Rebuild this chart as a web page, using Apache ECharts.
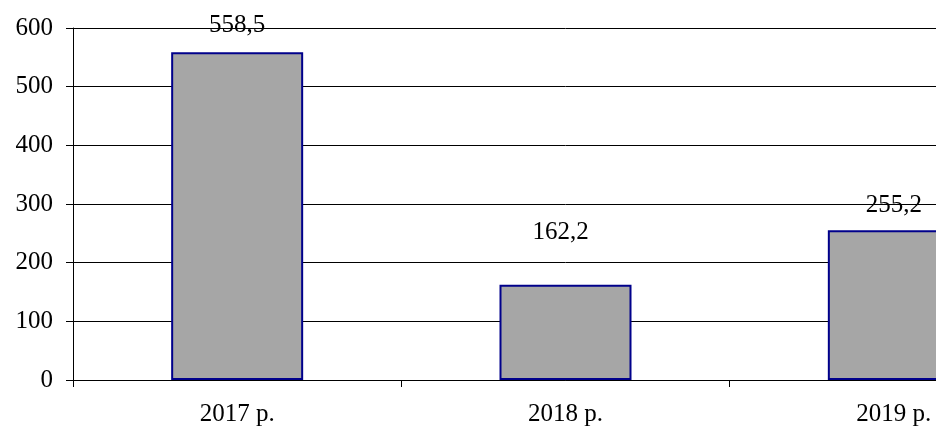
<!DOCTYPE html>
<html>
<head>
<meta charset="utf-8">
<script src="https://cdn.jsdelivr.net/npm/echarts@6/dist/echarts.min.js"></script>
<style>
  html, body { margin: 0; padding: 0; background: #fff; overflow: hidden; }
  /* The plot runs past the right edge of the window; the last bar is cut off. */
  #chart { width: 1100px; height: 427px; }
</style>
</head>
<body>
<div id="chart"></div>
<script>
// Categories and values
const years = ['2017 р.', '2018 р.', '2019 р.'];
const values = [558.5, 162.2, 255.2];
const valueLabels = ['558,5', '162,2', '255,2'];
// Per-bar label placement (distance above bar, horizontal shift)
const labelDistance = [14, 40, 12];
const labelShift = [0, -5, 0];

const font = '"Liberation Serif", "Times New Roman", serif';
const chart = echarts.init(document.getElementById('chart'), null, { renderer: 'canvas' });

chart.setOption({
  animation: false,
  backgroundColor: '#ffffff',
  grid: { left: 73, top: 28, width: 985, height: 354, containLabel: false },
  xAxis: {
    type: 'category',
    data: years,
    boundaryGap: true,
    axisLine: { show: true, lineStyle: { color: '#000', width: 1 } },
    axisTick: { show: true, inside: false, length: 7, alignWithLabel: false, lineStyle: { color: '#000' } },
    axisLabel: { color: '#000', fontFamily: font, fontSize: 25, margin: 22 },
    splitLine: { show: false }
  },
  yAxis: {
    type: 'value',
    min: 0,
    max: 600,
    interval: 100,
    axisLine: { show: true, lineStyle: { color: '#000', width: 1 } },
    axisTick: { show: true, inside: false, length: 7, lineStyle: { color: '#000' } },
    axisLabel: { color: '#000', fontFamily: font, fontSize: 25, margin: 20 },
    splitLine: { show: true, lineStyle: { color: '#000', width: 1 } }
  },
  series: [{
    type: 'bar',
    barWidth: 132,
    data: values.map((v, i) => ({
      value: v,
      label: {
        show: true,
        position: 'top',
        distance: labelDistance[i],
        offset: [labelShift[i], 0],
        formatter: valueLabels[i],
        color: '#000',
        fontFamily: font,
        fontSize: 25
      }
    })),
    itemStyle: { color: '#a6a6a6', borderColor: '#00008b', borderWidth: 2 }
  }]
});
</script>
</body>
</html>
